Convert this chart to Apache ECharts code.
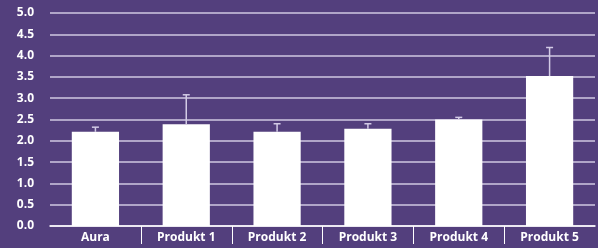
<!DOCTYPE html>
<html><head><meta charset="utf-8">
<script src="https://cdn.jsdelivr.net/npm/echarts@6/dist/echarts.min.js"></script>
<style>html,body{margin:0;padding:0;background:#533f7d;}#c{width:598px;height:248px;}</style>
</head><body><div id="c"></div>
<script>
var categories = ['Aura', 'Produkt 1', 'Produkt 2', 'Produkt 3', 'Produkt 4', 'Produkt 5'];
var values = [2.21, 2.39, 2.21, 2.28, 2.50, 3.52];
var errorTops = [2.32, 3.08, 2.40, 2.40, 2.55, 4.19];
var yTicks = [0, 0.5, 1, 1.5, 2, 2.5, 3, 3.5, 4, 4.5, 5];

var chart = echarts.init(document.getElementById('c'), null, {renderer: 'canvas'});
var errData = categories.map(function (c, i) { return [i, values[i], errorTops[i]]; });
var divData = categories.map(function (c, i) { return [i, 0]; });
chart.setOption({
  backgroundColor: '#533f7d',
  animation: false,
  grid: {left: 50, right: 3, top: 13, bottom: 22},
  xAxis: {
    type: 'category', data: categories,
    axisLine: {lineStyle: {color: '#ffffff', width: 1.5}},
    axisTick: {show: false},
    axisLabel: {color: '#ffffff', fontWeight: 'bold', fontSize: 12, fontFamily: 'Open Sans', margin: 6}
  },
  yAxis: {
    type: 'value', min: yTicks[0], max: yTicks[yTicks.length - 1], interval: 0.5,
    axisLine: {show: false}, axisTick: {show: false},
    axisLabel: {color: '#ffffff', fontWeight: 'bold', fontSize: 12, fontFamily: 'Open Sans', margin: 16,
      formatter: function (v) { return v.toFixed(1); }},
    splitLine: {lineStyle: {color: '#cfc8e2', width: 1.5}}
  },
  series: [
    {type: 'bar', data: values, barWidth: '52%', itemStyle: {color: '#ffffff'}, z: 2},
    {type: 'custom', data: errData, z: 3,
      renderItem: function (params, api) {
        var x = api.value(0);
        var base = api.coord([x, api.value(1)]);
        var top = api.coord([x, api.value(2)]);
        var hw = 3.5;
        var st = {stroke: '#d3cbe6', lineWidth: 1.5};
        return {type: 'group', children: [
          {type: 'line', shape: {x1: base[0], y1: base[1], x2: top[0], y2: top[1]}, style: st},
          {type: 'line', shape: {x1: top[0] - hw, y1: top[1], x2: top[0] + hw, y2: top[1]}, style: st}
        ]};
      }},
    {type: 'custom', data: divData, z: 3, clip: false,
      renderItem: function (params, api) {
        var i = api.value(0);
        if (i === 0) return null;
        var p = api.coord([i, 0]);
        var bw = api.size([1, 0])[0];
        var x = Math.round(p[0] - bw / 2) + 0.5;
        return {type: 'line', shape: {x1: x, y1: p[1], x2: x, y2: p[1] + 18},
          style: {stroke: '#ffffff', lineWidth: 1}};
      }}
  ]
});
</script></body></html>
